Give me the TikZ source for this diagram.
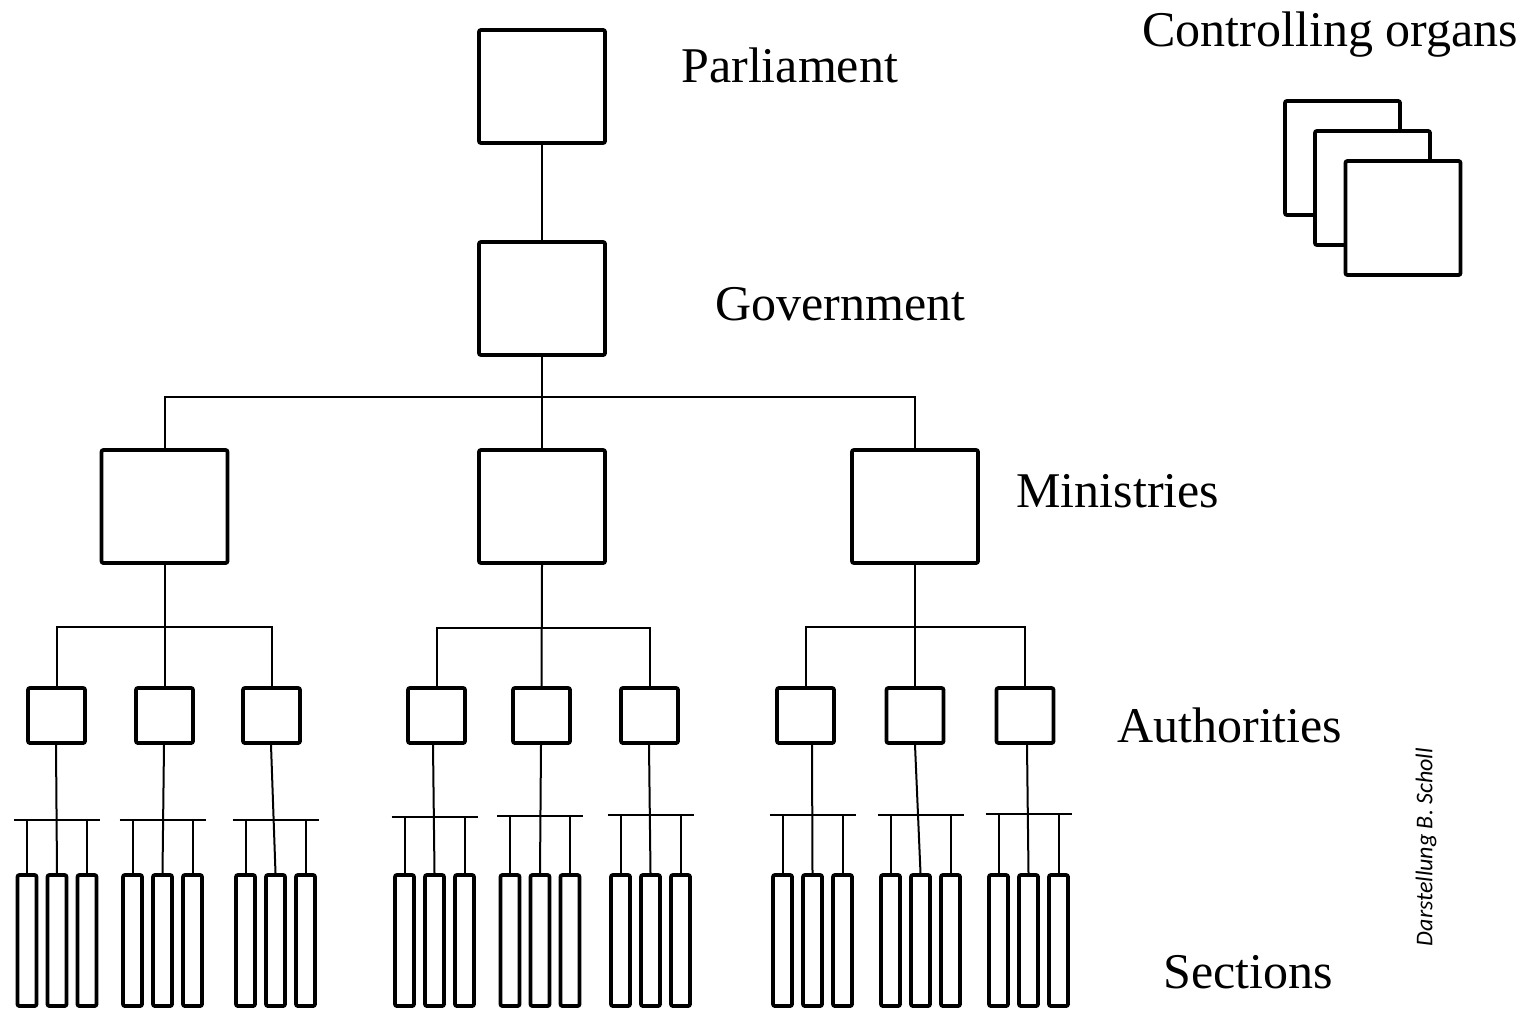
\documentclass[tikz,border=0pt]{standalone}
\usepackage{fontspec}
\setmainfont{Liberation Serif}
\newfontfamily\notefont{Carlito}
\begin{document}
\begin{tikzpicture}[x=0.5pt,y=-0.5pt,
  box/.style={draw, line width=1.9pt, rounded corners=1pt, fill=white, inner sep=0pt},
  big/.style={box, minimum width=63pt, minimum height=56.5pt},
  auth/.style={box, minimum width=28.5pt, minimum height=27.5pt},
  sect/.style={box, minimum width=9.5pt, minimum height=65.5pt},
  organ/.style={box, minimum width=57.5pt, minimum height=57pt},
  link/.style={line width=1pt},
  lbl/.style={anchor=base west, inner sep=0pt, font=\fontsize{25}{30}\selectfont}]
\useasboundingbox (0,0) rectangle (1525,1011);

% upper levels
\node[big] (par) at (542,86.5) {};
\node[big] (gov) at (542,298.5) {};
\node[big] (m1) at (164.5,506.5) {};
\node[big] (m2) at (542,506.5) {};
\node[big] (m3) at (915,506.5) {};

% authorities with their sections
\foreach \i/\ax/\tx/\sx/\by in {1/56.5/56/57/820, 2/164.5/164/162.5/820, 3/271.5/271/275.5/820,
    4/436.5/433/434.5/817, 5/541.5/541/540/816, 6/649.5/649/650.5/815,
    7/805.5/812/812.5/815, 8/915/915/920.5/815, 9/1025/1027/1028.5/814}{
  \node[auth] (a\i) at (\ax,715.5) {};
  \node[sect] (s\i-1) at ({\sx-30},940.5) {};
  \node[sect] (s\i-2) at (\sx,940.5) {};
  \node[sect] (s\i-3) at ({\sx+30},940.5) {};
  \coordinate (bl\i) at ({\sx-43},\by);
  \coordinate (br\i) at ({\sx+43},\by);
  \coordinate (t\i) at (\tx,\by);
  \draw[link] (bl\i) -- (br\i);
  \draw[link] (a\i.south -| t\i) -- (s\i-2.north);
  \draw[link] (s\i-1.north) -- (s\i-1.north |- bl\i);
  \draw[link] (s\i-3.north) -- (s\i-3.north |- bl\i);
}

% connectors between the upper levels
\draw[link] (par.south) -- (gov.north);
\coordinate (gb) at (542,397);
\draw[link] (gov.south) -- (m2.north);
\draw[link] (m1.north) |- (gb) -| (m3.north);

\coordinate (mb1) at (164.5,627);
\coordinate (mb2) at (541.5,628);
\coordinate (mb3) at (915,627);
\draw[link] (m1.south) -- (a2.north);
\draw[link] (a1.north) |- (mb1) -| (a3.north);
\draw[link] (m2.south) -- (a5.north);
\draw[link] (a4.north) |- (mb2) -| (a6.north);
\draw[link] (m3.south) -- (a8.north);
\draw[link] (a7.north) |- (mb3) -| (a9.north);

% controlling organs, stacked back to front
\node[organ] (o1) at (1342.5,158) {};
\node[organ] (o2) at (1372.5,188) {};
\node[organ] (o3) at (1403,218) {};

% level labels
\node[lbl] (tctl) at (1142,47) {Controlling organs};
\node[lbl] (tpar) at (681,83) {Parliament};
\node[lbl] (tgov) at (715,320) {Government};
\node[lbl] (tmin) at (1016,507) {Ministries};
\node[lbl] (tauth) at (1117,742) {Authorities};
\node[lbl] (tsec) at (1163,988) {Sections};

\node[rotate=90, inner sep=0pt, font=\notefont\itshape\fontsize{12}{14}\selectfont] (note) at (1426,847) {Darstellung B. Scholl};
\end{tikzpicture}
\end{document}
